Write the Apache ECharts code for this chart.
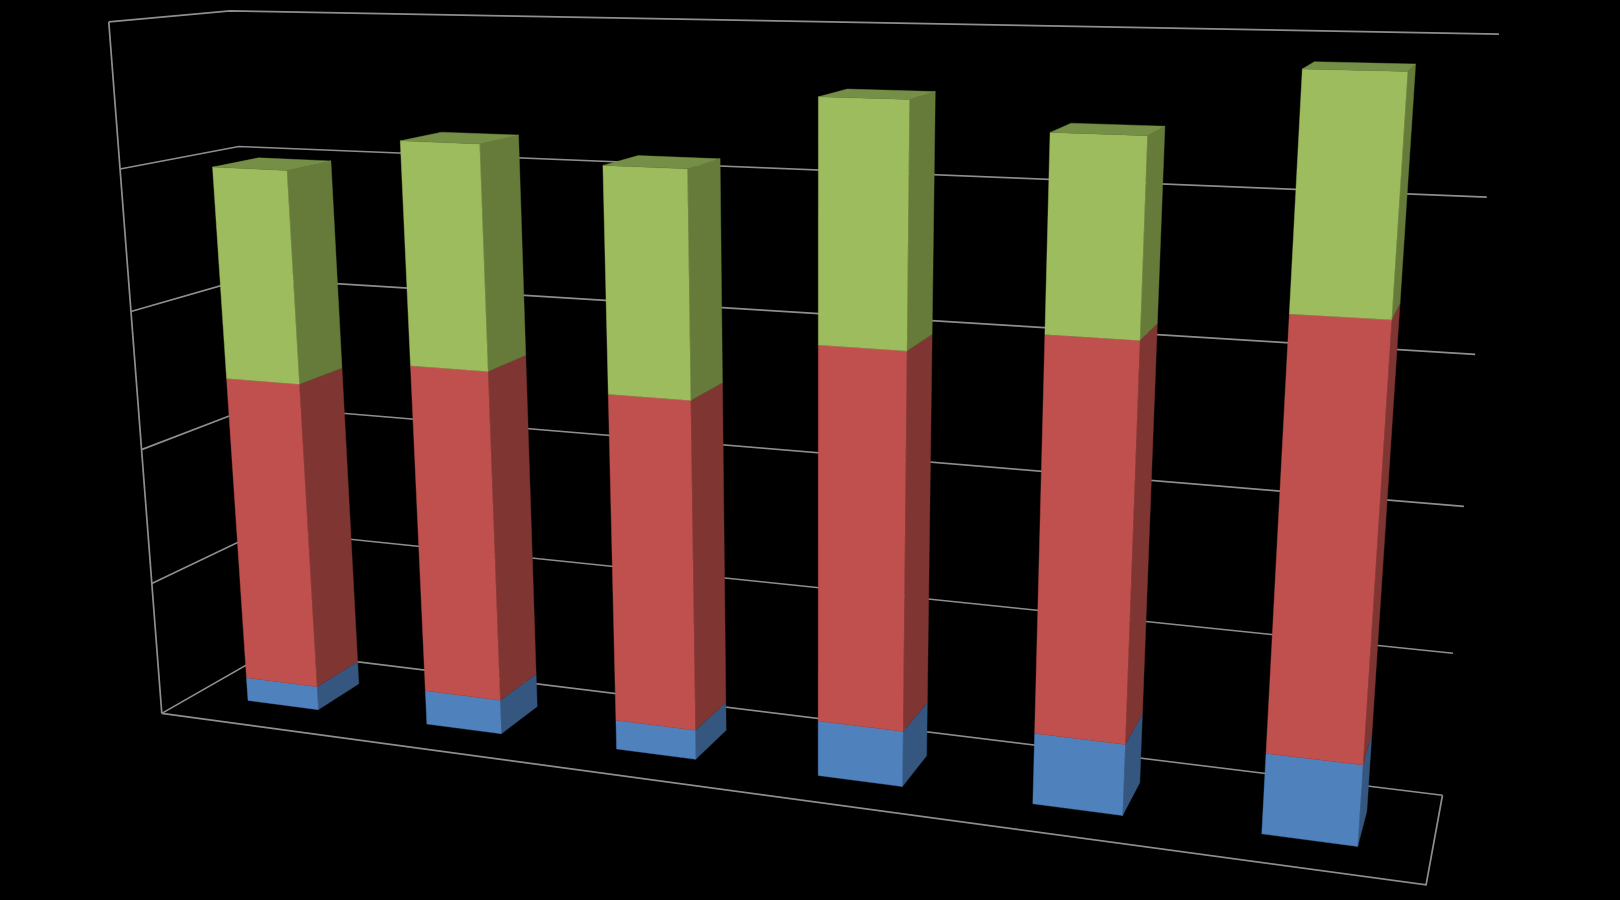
<!DOCTYPE html>
<html><head><meta charset="utf-8"><style>html,body{margin:0;background:#000}#c{width:1620px;height:900px}</style>
<script src="https://cdn.jsdelivr.net/npm/echarts@6/dist/echarts.min.js"></script></head><body><div id="c"></div>
<script>
const categories = ['1','2','3','4','5','6'];
const blueValues  = [18, 25.5, 21.5, 39.5, 49.5, 55];
const redValues   = [228, 240, 234.5, 260, 266.5, 283];
const greenValues = [152, 156, 154.5, 160, 126, 146];
const yTicks = [0, 100, 200, 300, 400, 500];

// Camera: projects (x 0..1 across, y 0..1 up, z 0 front..1 back) to the page
const CAM = [[1015.78,-61.1686,131.037,161.787],[17.3134,-693.087,-9.23455,713.363],[-0.174265,-0.0749633,0.0814637,1]];
const BAR_WIDTH = 0.4, DEPTH_FRONT = 0.3, DEPTH_BACK = 0.7;
const LINE = '#8E8E8E';
const PALETTE = {
  blue:  {front:'#4F81BD', side:'#35567E', top:'#3F6797'},
  red:   {front:'#C0504D', side:'#7F3532', top:'#9A403E'},
  green: {front:'#9DBC5E', side:'#667B3A', top:'#768F46'}
};
function project(x,y,z){
  const w = CAM[2][0]*x+CAM[2][1]*y+CAM[2][2]*z+CAM[2][3];
  return [(CAM[0][0]*x+CAM[0][1]*y+CAM[0][2]*z+CAM[0][3])/w,
          (CAM[1][0]*x+CAM[1][1]*y+CAM[1][2]*z+CAM[1][3])/w];
}
function norm(params,pt){
  const s = params.coordSys;
  return [(pt[0]-s.x)/s.width, (s.y+s.height-pt[1])/s.height];
}
function poly(points,fill){
  return {type:'polygon',shape:{points},style:{fill,stroke:fill,lineWidth:0.4}};
}
function line(points){
  return {type:'polyline',shape:{points},style:{fill:'none',stroke:LINE,lineWidth:1.7}};
}
function renderWall(params,api){
  const y = norm(params,api.coord([0,api.value(0)]))[1];
  const children = [line([project(0,y,0),project(0,y,1),project(1,y,1)])];
  if (params.dataIndex === 0) {
    children.push(line([project(0,0,0),project(1,0,0),project(1,0,1)]));
    children.push(line([project(0,0,0),project(0,1,0)]));
  }
  return {type:'group',children};
}
function barRenderer(colors,withTop){
  return function(params,api){
    const i = api.value(0);
    const c = norm(params,api.coord([i,0]))[0];
    const band = api.size([1,0])[0]/params.coordSys.width;
    const xl = c-band*BAR_WIDTH/2, xr = c+band*BAR_WIDTH/2;
    const y0 = norm(params,api.coord([i,api.value(1)]))[1];
    const y1 = norm(params,api.coord([i,api.value(2)]))[1];
    const zf = DEPTH_FRONT, zb = DEPTH_BACK;
    const children = [
      poly([project(xr,y0,zf),project(xr,y0,zb),project(xr,y1,zb),project(xr,y1,zf)],colors.side),
      poly([project(xl,y0,zf),project(xr,y0,zf),project(xr,y1,zf),project(xl,y1,zf)],colors.front)
    ];
    if (withTop) children.push(poly([project(xl,y1,zf),project(xr,y1,zf),project(xr,y1,zb),project(xl,y1,zb)],colors.top));
    return {type:'group',children};
  };
}
let run = categories.map(()=>0);
function stack(values){
  const d = values.map((v,i)=>[i,run[i],run[i]+v]);
  run = run.map((r,i)=>r+values[i]);
  return d;
}
const chart = echarts.init(document.getElementById('c'),null,{renderer:'canvas'});
const common = {type:'custom',clip:false,silent:true,animation:false,encode:{x:0,y:[1,2]}};
chart.setOption({
  backgroundColor:'#000',animation:false,
  grid:{left:0,right:0,top:0,bottom:0},
  xAxis:{type:'category',data:categories,show:false},
  yAxis:{type:'value',min:0,max:500,interval:100,show:false},
  series:[
    {type:'custom',clip:false,silent:true,animation:false,renderItem:renderWall,data:yTicks.map(v=>[v]),encode:{y:0}},
    {...common,name:'Series 1',renderItem:barRenderer(PALETTE.blue,false),data:stack(blueValues)},
    {...common,name:'Series 2',renderItem:barRenderer(PALETTE.red,false),data:stack(redValues)},
    {...common,name:'Series 3',renderItem:barRenderer(PALETTE.green,true),data:stack(greenValues)}
  ]
});
</script></body></html>
